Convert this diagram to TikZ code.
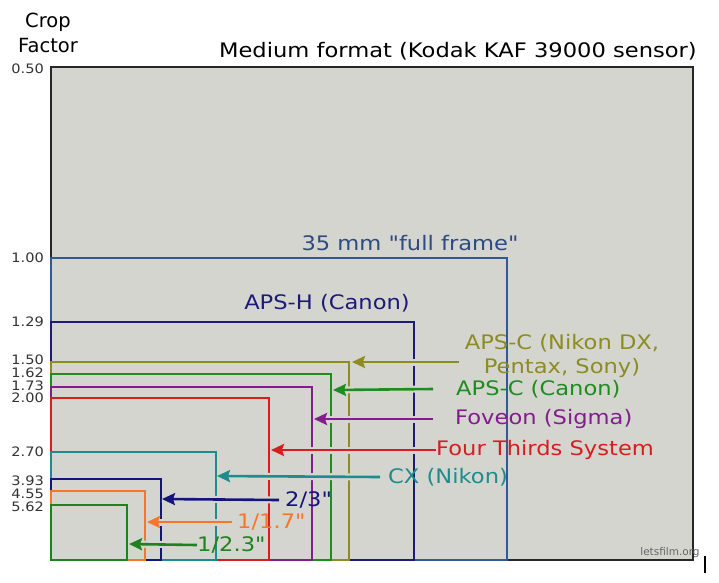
\documentclass[tikz,border=0pt]{standalone}
\usepackage{fontspec}
\setmainfont{DejaVu Sans}
\newfontfamily\namefamily{DejaVu Sans}[FakeStretch=1.13]
\newfontfamily\tickfamily{DejaVu Sans}[FakeStretch=1.12]
\newfontfamily\plainfamily{DejaVu Sans}
\usetikzlibrary{arrows.meta}

\definecolor{sensorbg}{RGB}{213,213,208}
\definecolor{ffblue}{RGB}{52,88,150}
\definecolor{apshnavy}{RGB}{28,28,120}
\definecolor{nikonolive}{RGB}{140,140,35}
\definecolor{canongreen}{RGB}{30,140,30}
\definecolor{foveonpurple}{RGB}{130,30,140}
\definecolor{fourthirdsred}{RGB}{215,30,30}
\definecolor{cxteal}{RGB}{30,140,140}
\definecolor{twothirdsnavy}{RGB}{20,20,125}
\definecolor{smallorange}{RGB}{245,120,40}
\definecolor{smallgreen}{RGB}{30,130,30}

\newcommand{\biglabel}{\namefamily\fontsize{20}{24}\selectfont}
\newcommand{\ticklabel}{\tickfamily\fontsize{13}{13}\selectfont}

\begin{document}
\begin{tikzpicture}[x=1pt,y=-1pt]
      \useasboundingbox (0,0) rectangle (719,582);
      \coordinate (origo) at (51,560);

      \tikzstyle{sensor} = [
        line width=2.6pt,
      ]
      \tikzstyle{sensorname} = [
        draw=none,
        inner sep=0pt,
        font=\biglabel
      ]
      \tikzstyle{cropvalue} = [
        draw=none,
        anchor=east,
        inner sep=0pt,
        text=black!80,
        font=\ticklabel
      ]

      \tikzstyle{arrow} = [line width=2.6pt,
        -{Stealth[length=13pt,width=12pt,inset=2pt]},
        preaction={draw=sensorbg,line width=7pt,arrows=-}]

      % axis
      \node[draw=none,inner sep=0pt,align=center,
        font=\plainfamily\fontsize{19.5}{25}\selectfont] (axisTitle) at (48,33) {Crop\\Factor};

      % medium format
      \coordinate (mediumCorner) at (693,67);
      \draw[sensor,draw=black!85,fill=sensorbg] (origo) rectangle (mediumCorner);
      \node[sensorname,anchor=east] (mediumLabel) at (697,51) {Medium format (Kodak KAF 39000 sensor)};

      % full frame
      \coordinate (ffCorner) at (507,258);
      \draw[sensor,draw=ffblue] (origo) rectangle (ffCorner);
      \node[sensorname,text=ffblue!85!black] (ffLabel) at (410,243) {35 mm "full frame"};

      % aps-h
      \coordinate (apshCorner) at (414,322);
      \draw[sensor,draw=apshnavy] (origo) rectangle (apshCorner);
      \node[sensorname,text=apshnavy] (apshLabel) at (327,303) {APS-H (Canon)};

      % aps-c nikon
      \coordinate (nikonCorner) at (349,362);
      \coordinate (nikonTip) at (352,362);
      \draw[sensor,draw=nikonolive] (origo) rectangle (nikonCorner);
      \node[sensorname,text=nikonolive,align=center] (nikonLabel) at (562,356) {APS-C (Nikon DX,\\Pentax, Sony)};

      % aps-c canon
      \coordinate (canonCorner) at (331,374);
      \coordinate (canonTip) at (333,390);
      \draw[sensor,draw=canongreen] (origo) rectangle (canonCorner);
      \node[sensorname,anchor=west,text=canongreen] (canonLabel) at (456,389) {APS-C (Canon)};

      % foveon
      \coordinate (foveonCorner) at (312,387);
      \coordinate (foveonTip) at (314,419);
      \draw[sensor,draw=foveonpurple] (origo) rectangle (foveonCorner);
      \node[sensorname,anchor=west,text=foveonpurple] (foveonLabel) at (455,419) {Foveon (Sigma)};

      % four thirds
      \coordinate (ftCorner) at (269,398);
      \coordinate (ftTip) at (271,450);
      \draw[sensor,draw=fourthirdsred] (origo) rectangle (ftCorner);
      \node[sensorname,anchor=west,text=fourthirdsred] (ftLabel) at (436,450) {Four Thirds System};

      % cx
      \coordinate (cxCorner) at (216,452);
      \coordinate (cxTip) at (217,476);
      \draw[sensor,draw=cxteal] (origo) rectangle (cxCorner);
      \node[sensorname,anchor=west,text=cxteal] (cxLabel) at (388,477) {CX (Nikon)};

      % 2/3
      \coordinate (twothirdsCorner) at (161,479);
      \coordinate (twothirdsTip) at (162,499);
      \draw[sensor,draw=twothirdsnavy] (origo) rectangle (twothirdsCorner);
      \node[sensorname,anchor=west,text=twothirdsnavy] (twothirdsLabel) at (285,500) {2/3"};

      % 1/1.7
      \coordinate (onesevenCorner) at (145,491);
      \coordinate (onesevenTip) at (147,522);
      \draw[sensor,draw=smallorange] (origo) rectangle (onesevenCorner);
      \node[sensorname,anchor=west,text=smallorange] (onesevenLabel) at (237,522) {1/1.7"};

      % 1/2.3
      \coordinate (twothreeCorner) at (127,505);
      \coordinate (twothreeTip) at (129,544);
      \draw[sensor,draw=smallgreen] (origo) rectangle (twothreeCorner);
      \node[sensorname,anchor=west,text=smallgreen] (twothreeLabel) at (197,545) {1/2.3"};

      % pointers
      \draw[arrow,draw=nikonolive] ([xshift=-6pt,yshift=-6pt] nikonLabel.west) -- (nikonTip);
      \draw[arrow,draw=canongreen] ([xshift=-23pt] canonLabel.west) -- (canonTip);
      \draw[arrow,draw=foveonpurple] ([xshift=-22pt] foveonLabel.west) -- (foveonTip);
      \draw[arrow,draw=fourthirdsred] (ftLabel.west) -- (ftTip);
      \draw[arrow,draw=cxteal] ([xshift=-8pt] cxLabel.west) -- (cxTip);
      \draw[arrow,draw=twothirdsnavy] ([xshift=-6pt] twothirdsLabel.west) -- (twothirdsTip);
      \draw[arrow,draw=smallorange] ([xshift=-5pt] onesevenLabel.west) -- (onesevenTip);
      \draw[arrow,draw=smallgreen] (twothreeLabel.west) -- (twothreeTip);

      % crop factors
      \node[cropvalue] (crop050) at (44,69) {0.50};
      \node[cropvalue] (crop100) at (44,258) {1.00};
      \node[cropvalue] (crop129) at (44,322) {1.29};
      \node[cropvalue] (crop150) at (44,360) {1.50};
      \node[cropvalue] (crop162) at (44,373) {1.62};
      \node[cropvalue] (crop173) at (44,386) {1.73};
      \node[cropvalue] (crop200) at (44,398) {2.00};
      \node[cropvalue] (crop270) at (44,452) {2.70};
      \node[cropvalue] (crop393) at (44,481) {3.93};
      \node[cropvalue] (crop455) at (44,494) {4.55};
      \node[cropvalue] (crop562) at (44,507) {5.62};

      % watermark
      \node[draw=none,inner sep=0pt,text=black!60,font=\plainfamily\fontsize{10.5}{11}\selectfont] (mark) at (670,553) {letsfilm.org};
      \draw[line width=1.2pt] (705,556) -- (705,573);
    \end{tikzpicture}
\end{document}
